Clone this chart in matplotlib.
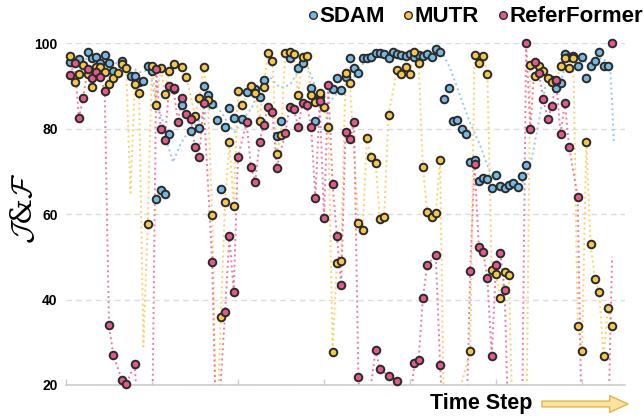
import matplotlib.pyplot as plt
from matplotlib.lines import Line2D

plt.rcParams['font.family'] = ['Liberation Sans', 'DejaVu Sans']
plt.rcParams['mathtext.fontset'] = 'cm'

# one value per time step (None = no visible marker)
steps = list(range(1, 129))

sdam = [95.6, None, 96.3, None, 97.9, 96.5, 96.7, 95.3, 97.2, 95.3,
        93.5, None, 95.8, None, 92.3, 92.3, 90.9, 91.1, 94.6, 93.5,
        63.5, 65.6, 64.7, 78.7, 89.2, None, 85.5, None, 79.4, None,
        80.1, 89.9, 87.8, 85.7, 82.0, 65.8, 80.4, 84.8, 82.5, None,
        82.2, 88.5, None, 89.2, 87.4, 91.3, None, None, 78.2, 81.8,
        None, 96.5, None, 94.2, 95.3, None, 89.5, 81.8, 87.6, None,
        None, 89.2, 91.8, 89.0, 92.0, 96.5, 94.2, 93.0, 96.5, 96.5,
        96.7, 97.7, 97.7, 97.4, 96.5, 97.9, 97.4, 97.2, 97.0, 97.4,
        96.7, 97.2, 97.0, 97.4, 96.7, 98.6, 97.9, 86.9, 89.5, 81.8,
        82.0, 79.9, 78.7, 72.2, 72.6, 67.7, 68.4, 68.2, 66.1, 69.1,
        66.5, 66.1, 66.8, 67.3, 66.3, 68.9, 71.5, None, None, None,
        None, None, 91.3, 89.5, 90.6, 97.4, 96.7, 97.0, 94.6, 96.7,
        91.8, 94.6, 95.8, 97.9, 94.6, 94.6, None, None]

mutr = [97.0, 90.9, 92.7, 94.9, 92.7, 89.7, 94.4, 94.4, 93.2, 90.4,
        91.8, 93.0, 95.1, 94.2, None, 90.4, 88.3, None, 57.7, 94.6,
        85.5, 94.2, 88.1, 93.5, 95.1, None, 94.4, 92.0, None, 82.9,
        87.1, 94.4, 86.7, 59.8, None, 36.0, 62.8, 76.8, 61.9, 88.8,
        85.5, None, 89.9, 88.3, 81.8, 89.7, 97.7, 95.8, 74.0, 78.5,
        97.7, 97.9, 97.4, 87.8, 96.7, 97.0, 87.8, 86.2, 88.3, 85.0,
        80.4, 27.7, 48.5, 49.0, 93.0, 90.6, None, 57.9, 56.3, 77.8,
        73.3, 71.9, 58.8, 59.3, 83.2, None, 93.7, 92.7, 94.4, 92.7,
        97.9, 95.3, 71.0, 60.5, 59.3, 60.2, 72.6, None, None, None,
        None, None, None, 28.0, 97.2, 95.3, 97.0, 92.7, 46.9, 46.0,
        40.4, 46.4, 45.7, None, None, None, None, 94.9, 92.3, 94.6,
        93.5, 91.8, 90.9, 91.1, 94.6, 96.5, 94.2, 96.5, 33.8, 28.0,
        76.8, 53.0, 44.8, 41.8, 26.8, 38.0, 33.8, None]

referformer = [92.5, 95.3, 82.5, 87.1, 93.9, 91.8, 93.2, 92.0, 88.8, 34.0,
               27.0, None, 21.2, 20.2, None, 24.9, None, None, None, None,
               94.0, 79.9, 77.3, 89.9, 89.5, 81.5, 87.1, 83.4, 82.2, 75.7,
               73.3, 86.0, None, 48.8, None, None, 37.1, 54.9, 41.8, 73.3,
               None, 81.5, 71.0, 67.5, 76.8, 80.8, 85.0, 83.9, 70.8, None,
               78.9, 85.0, 84.6, 80.4, 86.0, 85.5, 80.4, 63.7, 86.4, 59.1,
               90.2, 67.0, 54.9, 43.4, 79.2, 77.5, 81.5, 21.9, None, None,
               None, 28.2, 23.7, None, 22.1, None, 20.9, None, None, None,
               25.1, 25.8, 40.4, 48.1, None, 50.4, 24.7, None, None, None,
               None, None, None, 46.7, 71.7, 52.3, 51.1, 45.0, 26.8, 48.1,
               50.9, 42.2, None, None, None, None, 100.0, 79.9, 95.6, 93.0,
               86.9, 82.2, 85.3, 91.3, 78.7, 86.0, 75.7, None, 64.0, None,
               None, None, None, None, None, None, 100.0, None]

# SDAM trend line (smoother than its points)
sdam_line_t = [0.9, 5.6, 10.2, 13.7, 17.2, 19.5, 20.7, 22.3, 23.7, 24.9,
               26.5, 28.4, 30.7, 33.0, 34.7, 36.3, 38.1, 39.3, 41.6, 43.3,
               45.1, 47.4, 49.8, 52.1, 53.9, 55.1, 56.3, 57.4, 59.1, 60.7,
               63.3, 66.0, 68.4, 70.2, 72.3, 76.5, 80.5, 84.2, 87.4, 89.3,
               91.6, 93.9, 96.3, 98.6, 100.5, 103.3, 106.3, 107.4, 108.6, 109.8,
               111.4, 113.7, 115.3, 116.5, 118.4, 120.7, 122.3, 124.7, 126.5, 127.0,
               127.4]
sdam_line_v = [95.6, 96.5, 95.6, 94.9, 93.2, 93.7, 87.1, 82.5, 76.1, 72.1,
               76.1, 79.2, 81.5, 84.3, 85.5, 83.6, 80.4, 79.2, 82.7, 85.0,
               89.5, 92.0, 89.5, 90.2, 93.2, 95.3, 94.2, 91.3, 86.2, 85.5,
               88.5, 90.6, 94.4, 96.5, 97.4, 97.7, 97.2, 97.4, 97.9, 94.2,
               87.8, 81.5, 76.1, 69.8, 66.8, 67.5, 67.5, 69.1, 74.5, 80.8,
               89.5, 90.9, 91.8, 95.6, 96.5, 95.6, 95.6, 96.5, 94.9, 86.2,
               76.8]

# extra line-only vertices (time step: value), values < 20 run off the chart
mutr_line_extra = {15: 65, 18: 29, 35: 5, 88: 5, 104: 5, 107: 5}
referformer_line_extra = {17: 5, 20: 5, 35: 5, 69: 5, 79: 5, 88: 5, 93: 5,
                          103: 5, 106: 5, 120: 5, 126: 5, 127: 50}

names = ['SDAM', 'MUTR', 'ReferFormer']
fill_colors = ['#74b9e2', '#f6c64b', '#e25a8b']
line_colors = ['#8fcbee', '#fcd26a', '#f07ba2']
edge = '#2a2a2a'


def line_points(vals, extra):
    pts = {s: v for s, v in zip(steps, vals) if v is not None}
    pts.update(extra)
    xs = sorted(pts)
    return xs, [pts[s] for s in xs]


fig = plt.figure(figsize=(6.44, 4.16), dpi=100)
ax = fig.add_axes([66 / 644, 31 / 416, 559 / 644, 342 / 416])

# lines
ax.plot(sdam_line_t, sdam_line_v, ls=':', lw=1.4, color=line_colors[0], zorder=2)
mx, my = line_points(mutr, mutr_line_extra)
ax.plot(mx, my, ls=':', lw=1.4, color=line_colors[1], zorder=2)
rx, ry = line_points(referformer, referformer_line_extra)
ax.plot(rx, ry, ls=':', lw=1.4, color=line_colors[2], zorder=2)

# points
for k, vals in enumerate([sdam, mutr, referformer]):
    xs = [s for s, v in zip(steps, vals) if v is not None and v >= 20]
    ys = [v for v in vals if v is not None and v >= 20]
    ax.scatter(xs, ys, s=30, c=fill_colors[k], edgecolors=edge,
               linewidths=1.4, zorder=3 + k, clip_on=False)

ax.set_xlim(0, 130)
ax.set_ylim(20, 100)
ax.set_yticks([20, 40, 60, 80, 100])
ax.set_xticks(range(0, 130, 20))
ax.set_xticklabels([])
ax.tick_params(axis='y', length=0, pad=6, labelsize=10)
ax.tick_params(axis='x', direction='in', length=4, color='#cccccc', width=1)
for lab in ax.get_yticklabels():
    lab.set_fontweight('bold')
ax.yaxis.grid(True, ls=(0, (4, 3)), color='#dcdcdc', lw=1)
ax.set_axisbelow(True)
for sp in ['top', 'right', 'left']:
    ax.spines[sp].set_visible(False)
ax.spines['bottom'].set_color('#cccccc')
ax.spines['bottom'].set_linewidth(1.2)

fig.text(0.036, 0.50, r'$\mathcal{J}$&$\mathcal{F}$', rotation=90,
         fontsize=21, ha='center', va='center', family='DejaVu Serif')

fig.text(430 / 644, 12 / 416, 'Time Step', fontsize=15.5, fontweight='bold',
         ha='left', va='center')
ax.annotate('', xy=(628, 12), xytext=(542, 12), xycoords='figure pixels',
            textcoords='figure pixels',
            arrowprops=dict(arrowstyle='simple,head_length=1.1,head_width=1.0,tail_width=0.35',
                            fc='#fce3a0', ec='#e2b44a', lw=1, mutation_scale=12,
                            shrinkA=0, shrinkB=0))

handles = [Line2D([], [], marker='o', ls='', markersize=5.5, mfc=c, mec=edge, mew=1)
           for c in fill_colors]
fig.legend(handles, names, loc='upper right', bbox_to_anchor=(1.012, 1.006), ncol=3,
           frameon=False, prop={'weight': 'bold', 'size': 16},
           handletextpad=0.05, columnspacing=0.8, handlelength=0.5,
           borderaxespad=0.0)

fig.savefig('out.png', dpi=100)
